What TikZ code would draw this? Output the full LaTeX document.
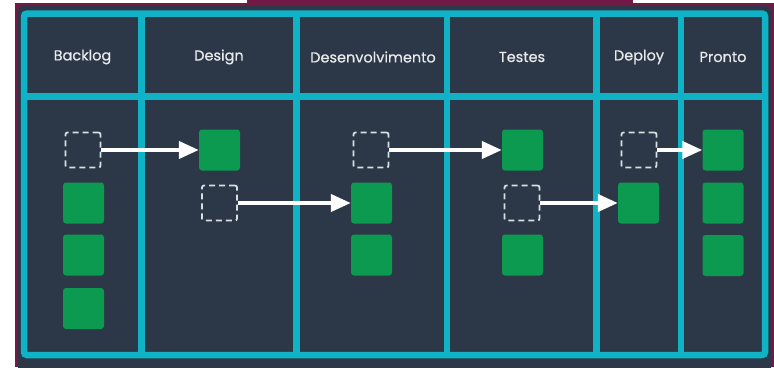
\documentclass[tikz,border=0pt]{standalone}
\usepackage{fontspec}
\setmainfont{Poppins}
\newfontfamily\headfont{Poppins}[BoldFont={Poppins}, BoldFeatures={FakeBold=0.6}]
\usepackage{tikz}
\usetikzlibrary{arrows.meta}

\definecolor{frame}{HTML}{701A45}
\definecolor{board}{HTML}{2C3847}
\definecolor{lane}{HTML}{10B2C6}
\definecolor{cardgreen}{HTML}{0B9A4F}
\definecolor{ghostgray}{HTML}{D9DEE2}
\definecolor{headtext}{HTML}{E8EAEC}

\tikzset{
  title/.style={text=headtext, font=\headfont\bfseries\fontsize{14.5}{16}\selectfont},
  card/.style={fill=cardgreen, rounded corners=3pt, minimum width=41pt, minimum height=41pt, inner sep=0pt},
  ghost/.style={draw=ghostgray, line width=1.8pt, dash pattern=on 6pt off 4pt, rounded corners=2pt, minimum size=35pt, inner sep=0pt},
  move/.style={white, line width=4pt, -{Triangle[length=20pt,width=17pt]}}
}

\begin{document}
\begin{tikzpicture}[x=1pt,y=-1pt]
  \useasboundingbox (0,0) rectangle (774,367);
  \fill[frame] (15,3) rectangle (774,367);
  \fill[frame] (247,0) rectangle (633,3);
  \fill[board, rounded corners=4pt] (18,6) rectangle (771,372);
  \draw[lane, line width=6.5pt, rounded corners=3pt] (24,13.5) rectangle (765,355);
  \draw[lane, line width=6.5pt]
  (24,96.5) -- (765,96.5)
  (141.5,13.5) -- (141.5,355)
  (296.5,13.5) -- (296.5,355)
  (447,13.5) -- (447,355)
  (596.5,13.5) -- (596.5,355)
  (681,13.5) -- (681,355);

  \node[title] (backlog) at (82.5,57) {Backlog};
  \node[title] (design) at (219,57) {Design};
  \node[title] (desenv) at (373,57) {Desenvolvimento};
  \node[title] (testes) at (522,57) {Testes};
  \node[title] (deploy) at (639,57) {Deploy};
  \node[title] (pronto) at (723,57) {Pronto};

  \node[ghost] (b-0) at (83,150) {};
  \node[card] (b-1) at (83.5,203) {};
  \node[card] (b-2) at (83.5,255) {};
  \node[card] (b-3) at (83.5,308.5) {};

  \node[card] (d-1) at (219.5,150) {};
  \node[ghost] (d-0) at (219.5,203) {};

  \node[ghost] (v-0) at (371,150) {};
  \node[card] (v-1) at (371.5,203) {};
  \node[card] (v-2) at (371.5,255) {};

  \node[card] (t-1) at (522.5,150) {};
  \node[ghost] (t-0) at (522,203) {};
  \node[card] (t-2) at (522.5,255) {};

  \node[ghost] (p-0) at (639,150) {};
  \node[card] (p-1) at (638.5,203) {};

  \node[card] (r-1) at (723,150) {};
  \node[card] (r-2) at (723,203) {};
  \node[card] (r-3) at (723,255.5) {};

  \path[move]
  (b-0) edge (d-1)
  (d-0) edge (v-1)
  (v-0) edge (t-1)
  (t-0) edge (p-1)
  (p-0) edge (r-1)
  ;
\end{tikzpicture}
\end{document}
